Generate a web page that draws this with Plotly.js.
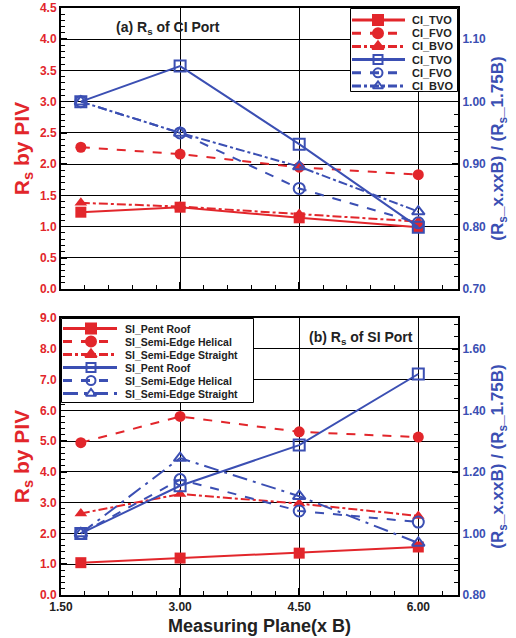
<!DOCTYPE html>
<html>
<head>
<meta charset="utf-8">
<script src="https://cdn.plot.ly/plotly-3.0.1.min.js"></script>
<style>html,body{margin:0;padding:0;background:#fff;}#chart{width:516px;height:638px;}</style>
</head>
<body>
<div id="chart"></div>
<script>
// Measuring planes (x B)
const planes = [1.75, 3.00, 4.50, 6.00];

// (a) CI port - Rs by PIV (left axis)
const ciTVO = [1.23, 1.31, 1.14, 0.99];
const ciFVO = [2.27, 2.16, 1.95, 1.83];
const ciBVO = [1.38, 1.32, 1.20, 1.08];
// (a) CI port - ratio to 1.75B (right axis)
const ciTVOratio = [1.000, 1.057, 0.932, 0.799];
const ciFVOratio = [1.000, 0.950, 0.861, 0.806];
const ciBVOratio = [1.000, 0.950, 0.896, 0.824];

// (b) SI port - Rs by PIV (left axis)
const siPent = [1.05, 1.20, 1.36, 1.56];
const siHelical = [4.95, 5.80, 5.30, 5.13];
const siStraight = [2.65, 3.28, 2.97, 2.57];
// (b) SI port - ratio to 1.75B (right axis)
const siPentRatio = [1.000, 1.155, 1.287, 1.518];
const siHelicalRatio = [1.000, 1.175, 1.073, 1.037];
const siStraightRatio = [1.000, 1.245, 1.121, 0.969];

const ciNames = ['CI_TVO', 'CI_FVO', 'CI_BVO'];
const siNames = ['SI_Pent Roof', 'SI_Semi-Edge Helical', 'SI_Semi-Edge Straight'];
const xTickVals = [1.5, 3.0, 4.5, 6.0];

const RED = '#e2262b';
const BLUE = '#3b4fb3';
const FONT = 'Liberation Sans, Arial, sans-serif';

const redStyles = [['solid', 'square'], ['dash', 'circle'], ['dashdot', 'triangle-up']];
const blueStylesA = [['solid', 'square-open'], ['dash', 'circle-open'], ['dashdot', 'triangle-up-open']];
const blueStylesB = [['solid', 'square-open'], ['dash', 'circle-open'], ['longdashdot', 'triangle-up-open']];

function redTrace(y, name, st, xa, ya) {
  return {x: planes, y: y, name: name, type: 'scatter', mode: 'lines+markers',
    xaxis: xa, yaxis: ya, showlegend: false,
    line: {color: RED, width: 2, dash: st[0]},
    marker: {color: RED, symbol: st[1], size: 11, opacity: 1}};
}
function blueTrace(y, name, st, xa, ya) {
  return {x: planes, y: y, name: name, type: 'scatter', mode: 'lines+markers',
    xaxis: xa, yaxis: ya, showlegend: false,
    line: {color: BLUE, width: 2, dash: st[0]},
    marker: {color: BLUE, symbol: st[1], size: 11, opacity: 1, line: {color: BLUE, width: 2}}};
}

const traces = [
  redTrace(ciTVO, ciNames[0], redStyles[0], 'x', 'y'),
  redTrace(ciFVO, ciNames[1], redStyles[1], 'x', 'y'),
  redTrace(ciBVO, ciNames[2], redStyles[2], 'x', 'y'),
  blueTrace(ciTVOratio, ciNames[0], blueStylesA[0], 'x', 'y2'),
  blueTrace(ciFVOratio, ciNames[1], blueStylesA[1], 'x', 'y2'),
  blueTrace(ciBVOratio, ciNames[2], blueStylesA[2], 'x', 'y2'),
  redTrace(siPent, siNames[0], redStyles[0], 'x2', 'y3'),
  redTrace(siHelical, siNames[1], redStyles[1], 'x2', 'y3'),
  redTrace(siStraight, siNames[2], redStyles[2], 'x2', 'y3'),
  blueTrace(siPentRatio, siNames[0], blueStylesB[0], 'x2', 'y4'),
  blueTrace(siHelicalRatio, siNames[1], blueStylesB[1], 'x2', 'y4'),
  blueTrace(siStraightRatio, siNames[2], blueStylesB[2], 'x2', 'y4')
];

// ---- legend boxes drawn as small hidden-axis subplots ----
const annotations = [];
function addLegend(xa, ya, names, bStyles, w, h, rowStart, rowStep, lineEnd, markX, textX, fsize) {
  traces.push({x: [0.5, w - 0.5, w - 0.5, 0.5, 0.5], y: [0.5, 0.5, h - 0.5, h - 0.5, 0.5],
    xaxis: xa, yaxis: ya, type: 'scatter', mode: 'lines', fill: 'toself',
    fillcolor: '#fff', line: {color: '#000', width: 1}, showlegend: false, hoverinfo: 'skip'});
  const rows = [];
  names.forEach((n, i) => rows.push({name: n, color: RED, st: redStyles[i], open: false}));
  names.forEach((n, i) => rows.push({name: n, color: BLUE, st: bStyles[i], open: true}));
  rows.forEach((r, i) => {
    const yy = rowStart + i * rowStep;
    traces.push({x: [2, markX, lineEnd], y: [yy, yy, yy], xaxis: xa, yaxis: ya,
      type: 'scatter', mode: 'lines+markers', showlegend: false, hoverinfo: 'skip',
      line: {color: r.color, width: 3, dash: r.st[0]},
      marker: {color: r.color, symbol: r.st[1], size: [0, r.open ? 9 : 10, 0], opacity: 1,
        line: {color: r.color, width: 2}}});
    annotations.push({xref: xa, yref: ya, x: textX, y: yy, xanchor: 'left', yanchor: 'middle',
      text: r.name, showarrow: false,
      font: {family: FONT, size: fsize, color: '#222', weight: 700}});
  });
}
addLegend('x3', 'y5', ciNames, blueStylesA, 108, 84, 12, 13.2, 55, 28, 60, 11);
addLegend('x4', 'y6', siNames, blueStylesB, 193, 85, 10.5, 13, 56, 30, 62, 10.5);

const tickRed = {family: FONT, size: 12, color: RED, weight: 700};
const tickBlue = {family: FONT, size: 12, color: BLUE, weight: 700};
const tickBlack = {family: FONT, size: 12, color: '#222', weight: 700};

const topDomain = [0.5213, 1];
const botDomain = [0, 0.4719];

function xAxis(anchor, showLabels, title) {
  const ax = {anchor: anchor, domain: [0, 1], range: [1.5, 6.5], tickvals: xTickVals,
    ticktext: xTickVals.map(v => v.toFixed(2)),
    showticklabels: showLabels, tickfont: tickBlack,
    ticks: 'inside', ticklen: 7, tickwidth: 1.5, tickcolor: '#000',
    showgrid: true, gridcolor: '#000', gridwidth: 1,
    showline: true, linecolor: '#000', linewidth: 2, mirror: true,
    zeroline: false,
    minor: {dtick: 0.3, tick0: 1.5, ticks: 'inside', ticklen: 4, tickcolor: '#000', tickwidth: 1, showgrid: false}};
  if (title) ax.title = {text: title, font: {family: FONT, size: 18, color: '#222', weight: 700}, standoff: 6};
  return ax;
}

function yLeft(domain, range, dtick, minor, anchor, title) {
  return {domain: domain, anchor: anchor, range: range, dtick: dtick, tick0: 0,
    tickformat: '.1f', tickfont: tickRed,
    ticks: 'inside', ticklen: 6, tickwidth: 1.5, tickcolor: '#000',
    showgrid: true, gridcolor: '#000', gridwidth: 1,
    showline: true, linecolor: '#000', linewidth: 2, zeroline: false,
    minor: {dtick: minor, ticks: 'inside', ticklen: 4, tickcolor: '#000', tickwidth: 1, showgrid: false},
    title: {text: title, font: {family: FONT, size: 21, color: RED, weight: 700}, standoff: 5}};
}

function yRight(overlay, range, tickvals, minor, anchor, title) {
  return {overlaying: overlay, side: 'right', anchor: anchor, range: range,
    tickvals: tickvals, ticktext: tickvals.map(v => v.toFixed(2)), tickfont: tickBlue,
    ticks: 'inside', ticklen: 6, tickwidth: 1.5, tickcolor: '#000',
    showgrid: false, showline: true, linecolor: '#000', linewidth: 2, zeroline: false,
    minor: {dtick: minor, tick0: range[0], ticks: 'inside', ticklen: 4, tickcolor: '#000', tickwidth: 1, showgrid: false},
    title: {text: title, font: {family: FONT, size: 17, color: BLUE, weight: 700}, standoff: 6}};
}

function hiddenAxis(domain, range, anchor) {
  return {domain: domain, range: range, anchor: anchor, visible: false, fixedrange: true};
}

const rightTitle = '(R<sub>s</sub>_x.xxB) / (R<sub>s</sub>_1.75B)';

// plot area: x 61..458 (397px), y 8..595 (587px)
annotations.push(
  {xref: 'paper', yref: 'paper', x: 0.27, y: 0.985, xanchor: 'center', yanchor: 'top',
    text: '(a) R<sub>s</sub> of CI Port', showarrow: false,
    font: {family: FONT, size: 14, color: '#222', weight: 700}},
  {xref: 'paper', yref: 'paper', x: 0.755, y: 0.456, xanchor: 'center', yanchor: 'top',
    text: '(b) R<sub>s</sub> of SI Port', showarrow: false,
    font: {family: FONT, size: 14, color: '#222', weight: 700}}
);

const layout = {
  width: 516, height: 638,
  margin: {l: 61, r: 58, t: 8, b: 43},
  paper_bgcolor: '#fff', plot_bgcolor: 'rgba(0,0,0,0)',
  font: {family: FONT},
  showlegend: false,
  xaxis: xAxis('y', false, null),
  xaxis2: xAxis('y3', true, 'Measuring Plane(x B)'),
  yaxis: yLeft(topDomain, [0, 4.5], 0.5, 0.1, 'x', 'R<sub>s</sub> by PIV'),
  yaxis2: yRight('y', [0.7, 1.15], [0.7, 0.8, 0.9, 1.0, 1.1], 0.02, 'x', rightTitle),
  yaxis3: yLeft(botDomain, [0, 9], 1, 0.2, 'x2', 'R<sub>s</sub> by PIV'),
  yaxis4: yRight('y3', [0.8, 1.7], [0.8, 1.0, 1.2, 1.4, 1.6], 0.04, 'x2', rightTitle),
  xaxis3: hiddenAxis([(350 - 61) / 397, 1], [0, 108], 'y5'),
  yaxis5: hiddenAxis([(595 - 92) / 587, 1], [84, 0], 'x3'),
  xaxis4: hiddenAxis([0, 193 / 397], [0, 193], 'y6'),
  yaxis6: hiddenAxis([(595 - 403) / 587, (595 - 318) / 587], [85, 0], 'x4'),
  annotations: annotations
};

Plotly.newPlot('chart', traces, layout, {displayModeBar: false, staticPlot: true});
</script>
</body>
</html>
